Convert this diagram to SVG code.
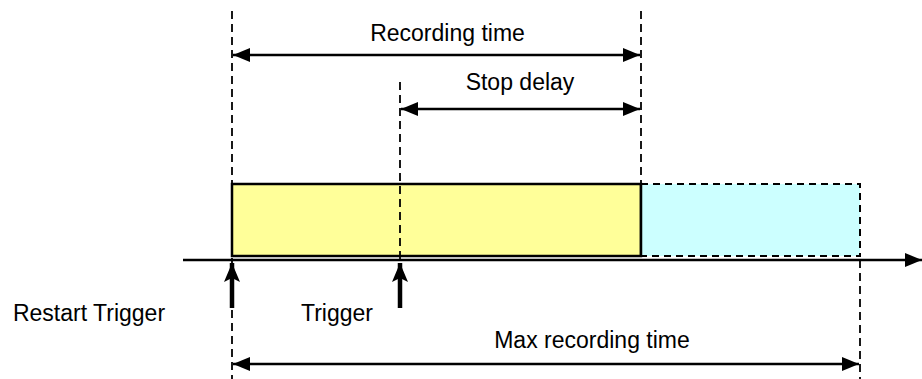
<svg xmlns="http://www.w3.org/2000/svg" width="922" height="379" viewBox="0 0 922 379">
<defs>
<marker id="ah" markerUnits="userSpaceOnUse" markerWidth="18" markerHeight="16" refX="17" refY="8" orient="auto-start-reverse" viewBox="0 0 18 16">
<path d="M0,1 L17,8 L0,15 Z" fill="#000"/>
</marker>
<marker id="up" markerUnits="userSpaceOnUse" markerWidth="20" markerHeight="16" refX="19" refY="8" orient="auto" viewBox="0 0 20 16">
<path d="M0,0 L19,8 L0,16 L4,8 Z" fill="#000"/>
</marker>
<style>
.dash{stroke:#000;stroke-width:1.8;stroke-dasharray:8 5;fill:none}
.dim{stroke:#000;stroke-width:2.4;fill:none;marker-start:url(#ah);marker-end:url(#ah)}
.lbl{font-family:"Liberation Sans",Arial,sans-serif;font-size:23px;fill:#000;text-anchor:middle}
</style>
</defs>
<rect width="922" height="379" fill="#fff"/>
<g id="bars">
<rect id="recording" x="232" y="184" width="409" height="72" fill="#ffff99" stroke="#000" stroke-width="2.5"/>
<rect id="extra" x="641" y="184" width="219" height="72" fill="#ccffff" stroke="#000" stroke-width="2" stroke-dasharray="7 5"/>
<line x1="641" y1="184" x2="641" y2="256" stroke="#000" stroke-width="2.5"/>
</g>
<g id="connectors">
<line class="dash" x1="232" y1="11" x2="232" y2="379"/>
<line class="dash" x1="641" y1="11" x2="641" y2="184"/>
<line class="dash" x1="400" y1="82" x2="400" y2="260"/>
<line class="dash" x1="860" y1="260" x2="860" y2="379"/>
<line class="dim" x1="233" y1="55" x2="640" y2="55"/>
<line class="dim" x1="401" y1="109" x2="640" y2="109"/>
<line class="dim" x1="233" y1="364" x2="859" y2="364"/>
<line id="axis" x1="183" y1="260" x2="922" y2="260" stroke="#000" stroke-width="2.6" marker-end="url(#ah)"/>
<line id="restart-arrow" x1="232" y1="308" x2="232" y2="263" stroke="#000" stroke-width="4.5" marker-end="url(#up)"/>
<line id="trigger-arrow" x1="400" y1="308" x2="400" y2="263" stroke="#000" stroke-width="4.5" marker-end="url(#up)"/>
</g>
<g id="labels">
<text class="lbl" x="447.5" y="41">Recording time</text>
<text class="lbl" x="520" y="90">Stop delay</text>
<text class="lbl" x="89" y="321">Restart Trigger</text>
<text class="lbl" x="337" y="321">Trigger</text>
<text class="lbl" x="592" y="348">Max recording time</text>
</g>
</svg>
